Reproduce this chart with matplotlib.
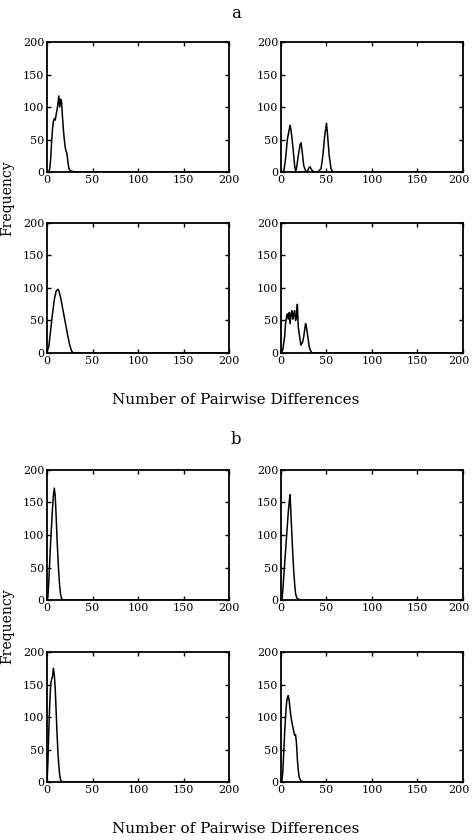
import matplotlib
matplotlib.use("Agg")
import matplotlib.pyplot as plt
import matplotlib.transforms as mtransforms

# panel a, top left
a1_x = [0, 2, 3, 4, 5, 6, 7, 8, 9, 10, 11, 12, 13, 14, 15, 16, 17, 18, 19, 20, 21, 22, 23, 24, 25, 26, 28, 30, 200]
a1_y = [0, 0, 5, 20, 45, 65, 78, 82, 80, 88, 95, 105, 117, 100, 112, 108, 85, 65, 50, 38, 32, 28, 15, 6, 3, 2, 1, 0, 0]

# panel a, top right
a2_x = [0, 3, 5, 7, 9, 10, 11, 13, 15, 16, 17, 19, 21, 22, 23, 25, 27, 29, 31, 32, 33, 35, 40, 44, 46, 48, 50, 51, 53, 55, 57, 200]
a2_y = [0, 0, 20, 50, 65, 72, 65, 40, 10, 2, 5, 25, 42, 45, 35, 10, 2, 1, 7, 8, 5, 1, 0, 5, 25, 55, 75, 60, 25, 5, 0, 0]

# panel a, bottom left
a3_x = [0, 2, 4, 6, 8, 10, 12, 13, 15, 17, 19, 21, 23, 25, 27, 29, 200]
a3_y = [2, 10, 35, 60, 82, 95, 98, 96, 85, 70, 55, 40, 25, 12, 3, 0, 0]

# panel a, bottom right
a4_x = [0, 2, 4, 5, 6, 7, 8, 9, 10, 11, 12, 13, 14, 15, 16, 17, 18, 19, 20, 21, 22, 23, 24, 25, 26, 27, 28, 29, 30, 31, 32, 34, 36, 200]
a4_y = [0, 5, 25, 45, 55, 60, 52, 62, 45, 60, 65, 52, 60, 65, 50, 55, 75, 40, 30, 20, 12, 15, 18, 25, 35, 45, 40, 30, 20, 10, 5, 0, 0, 0]

# panel b, top left
b1_x = [0, 1, 2, 3, 4, 5, 6, 7, 8, 9, 10, 11, 12, 13, 14, 15, 16, 18, 200]
b1_y = [0, 5, 30, 60, 90, 115, 140, 160, 172, 160, 130, 95, 65, 40, 20, 8, 2, 0, 0]

# panel b, top right
b2_x = [0, 1, 2, 3, 4, 5, 6, 7, 8, 9, 10, 11, 12, 13, 14, 15, 16, 17, 18, 20, 22, 200]
b2_y = [0, 0, 15, 35, 55, 75, 95, 115, 135, 150, 162, 130, 100, 70, 45, 25, 10, 5, 2, 1, 0, 0]

# panel b, bottom left
b3_x = [0, 1, 2, 3, 4, 5, 6, 7, 8, 9, 10, 11, 12, 13, 14, 15, 16, 18, 200]
b3_y = [0, 30, 80, 120, 150, 158, 162, 175, 165, 145, 110, 75, 45, 25, 10, 3, 1, 0, 0]

# panel b, bottom right
b4_x = [0, 1, 2, 3, 4, 5, 6, 7, 8, 9, 10, 11, 12, 13, 14, 15, 16, 17, 18, 19, 20, 21, 22, 24, 200]
b4_y = [0, 2, 15, 45, 75, 100, 120, 130, 133, 125, 112, 100, 92, 85, 78, 72, 73, 60, 35, 18, 8, 4, 2, 0, 0]

ticks = [0, 50, 100, 150, 200]
serif = "DejaVu Serif"

fig = plt.figure(figsize=(4.72, 8.4), dpi=100)

col_left = [0.0996, 0.5953]
row_bottom = [0.7952, 0.5798, 0.2857, 0.0690]
w, h = 0.3856, 0.1548

panels = [
    (a1_x, a1_y, 0, 0), (a2_x, a2_y, 0, 1),
    (a3_x, a3_y, 1, 0), (a4_x, a4_y, 1, 1),
    (b1_x, b1_y, 2, 0), (b2_x, b2_y, 2, 1),
    (b3_x, b3_y, 3, 0), (b4_x, b4_y, 3, 1),
]

# nudge the last x tick label left a bit so it stays inside the figure
nudge = mtransforms.ScaledTranslation(-4 / 100, 0, fig.dpi_scale_trans)

for xs, ys, r, c in panels:
    ax = fig.add_axes([col_left[c], row_bottom[r], w, h])
    ax.plot(xs, ys, color="black", linewidth=1.1)
    ax.set_xlim(0, 200)
    ax.set_ylim(0, 200)
    ax.set_xticks(ticks)
    ax.set_yticks(ticks)
    ax.tick_params(direction="in", top=True, right=True, length=3, width=1,
                   labelsize=8, pad=2)
    for lab in ax.get_xticklabels() + ax.get_yticklabels():
        lab.set_family(serif)
    if c == 1:
        last = ax.get_xticklabels()[-1]
        last.set_transform(last.get_transform() + nudge)
    for sp in ax.spines.values():
        sp.set_linewidth(1.3)

# panel letters, shared labels
fig.text(0.5, 1 - 13 / 840, "a", ha="center", va="center", fontsize=12, family=serif)
fig.text(0.5, 1 - 440 / 840, "b", ha="center", va="center", fontsize=12, family=serif)
fig.text(0.5, 1 - 400 / 840, "Number of Pairwise Differences", ha="center", va="center",
         fontsize=11, family=serif)
fig.text(0.5, 1 - 829 / 840, "Number of Pairwise Differences", ha="center", va="center",
         fontsize=11, family=serif)
fig.text(7 / 472, 1 - 198 / 840, "Frequency", ha="center", va="center", rotation=90,
         fontsize=10, family=serif)
fig.text(7 / 472, 1 - 626 / 840, "Frequency", ha="center", va="center", rotation=90,
         fontsize=10, family=serif)

fig.savefig("out.png", dpi=100)
